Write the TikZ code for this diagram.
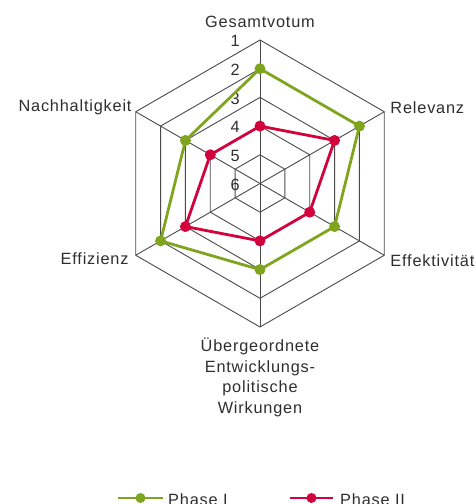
\documentclass[tikz,border=0pt]{standalone}
\usepackage{fontspec}
\setmainfont[LetterSpace=5]{Liberation Sans}
\definecolor{phaseone}{HTML}{7FA51E}
\definecolor{phasetwo}{HTML}{D2033C}
\definecolor{gridgray}{HTML}{4A4A4A}
\begin{document}
\begin{tikzpicture}[x=1pt,y=-1pt,
  every node/.style={font=\fontsize{16.3}{20.5}\selectfont, text=black!82, inner sep=0pt},
  gridline/.style={draw=gridgray, line width=0.9pt},
  serieone/.style={draw=phaseone, line width=2.8pt, line join=round},
  serietwo/.style={draw=phasetwo, line width=2.8pt, line join=round},
  dotone/.style={circle, fill=phaseone, minimum size=11pt, inner sep=0pt},
  dottwo/.style={circle, fill=phasetwo, minimum size=11pt, inner sep=0pt}]
\useasboundingbox (0,0) rectangle (475,504);
\clip (0,0) rectangle (475,504);
\def\RR{143.5}
\begin{scope}[shift={(260,183.5)}]
  % grid hexagons
  \foreach \lev in {1,...,5}{
    \pgfmathsetmacro{\rr}{\lev*\RR/5}
    \draw[gridline] (-90:\rr) -- (-30:\rr) -- (30:\rr) -- (90:\rr) -- (150:\rr) -- (210:\rr) -- cycle;
  }
  % axes
  \coordinate (c) at (0,0);
  \foreach \k/\nm in {0/ax0,1/ax1,2/ax2,3/ax3,4/ax4,5/ax5}{
    \coordinate (\nm) at ({-90+60*\k}:\RR);
    \draw[gridline] (c) -- (\nm);
  }
  % scale numbers
  \foreach \v in {1,...,6}{
    \node[anchor=east] (n\v) at ({-20}, {-(6-\v)*\RR/5+1}) {\v};
  }
  % data points
  \foreach \k/\v in {0/2,1/2,2/3,3/3,4/2,5/3}{
    \coordinate (g\k) at ({-90+60*\k}:{(6-\v)*\RR/5});
  }
  \foreach \k/\v in {0/4,1/3,2/4,3/4,4/3,5/4}{
    \coordinate (r\k) at ({-90+60*\k}:{(6-\v)*\RR/5});
  }
  \draw[serieone] (g0) -- (g1) -- (g2) -- (g3) -- (g4) -- (g5) -- cycle;
  \draw[serietwo] (r0) -- (r1) -- (r2) -- (r3) -- (r4) -- (r5) -- cycle;
  \foreach \k in {0,...,5}{
    \node[dotone] (gd\k) at (g\k) {};
    \node[dottwo] (rd\k) at (r\k) {};
  }
\end{scope}
% axis labels
\node[anchor=south] (l0) at ([yshift=12]ax0) {Gesamtvotum};
\node[anchor=west] (l1) at ([xshift=6,yshift=4]ax1) {Relevanz};
\node[anchor=west] (l2) at ([xshift=6,yshift=-5]ax2) {Effektivität};
\node[anchor=north, align=center] (l3) at ([yshift=-11]ax3) {Übergeordnete\\Entwicklungs-\\politische\\Wirkungen};
\node[anchor=east] (l4) at ([xshift=-7,yshift=-3]ax4) {Effizienz};
\node[anchor=east] (l5) at ([xshift=-4,yshift=4]ax5) {Nachhaltigkeit};
% legend
\coordinate (la) at (118,498);
\coordinate (lb) at (163,498);
\draw[serieone] (la) -- (lb);
\node[dotone, minimum size=10pt] (ld1) at (140.5,498) {};
\node[anchor=west] (lt1) at (168,500) {Phase I};
\coordinate (lc) at (290,498);
\coordinate (ld) at (333,498);
\draw[serietwo] (lc) -- (ld);
\node[dottwo, minimum size=10pt] (ld2) at (311.5,498) {};
\node[anchor=west] (lt2) at (340,500) {Phase II};
\end{tikzpicture}
\end{document}
